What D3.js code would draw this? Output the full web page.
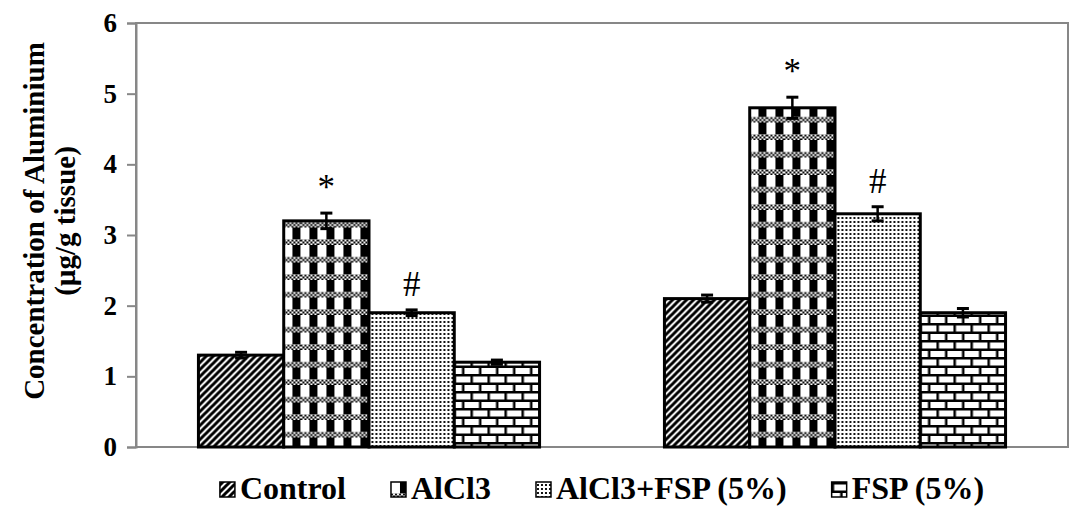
<!DOCTYPE html>
<html>
<head>
<meta charset="utf-8">
<script src="https://cdn.jsdelivr.net/npm/d3@7"></script>
<style>
  body { margin: 0; background: #fff; }
  svg { display: block; }
  text { font-family: "Liberation Serif", "Times New Roman", serif; }
</style>
</head>
<body>
<div id="chart"></div>
<script>
// data
const groups = ["Tissue 1", "Tissue 2"];
const series = ["Control", "AlCl3", "AlCl3+FSP (5%)", "FSP (5%)"];
const means = [
  [1.3, 3.2, 1.9, 1.2],
  [2.1, 4.8, 3.3, 1.9],
];
const errors = [
  [0.04, 0.11, 0.04, 0.03],
  [0.05, 0.15, 0.1, 0.06],
];
const marks = [
  ["", "*", "#", ""],
  ["", "*", "#", ""],
];
const yTicks = [0, 1, 2, 3, 4, 5, 6];
const patternIds = ["pDiag", "pPlaid", "pDots", "pBrick"];

const W = 1071, H = 508;
const plot = { left: 136, right: 1068, top: 23, bottom: 447 };
const grey = "#878787";

const svg = d3.select("#chart").append("svg")
  .attr("width", W).attr("height", H);

// fill patterns (black & white hatchings like the original)
const defs = svg.append("defs");

const diag = defs.append("pattern").attr("id", "pDiag")
  .attr("patternUnits", "userSpaceOnUse").attr("width", 7).attr("height", 7);
diag.append("rect").attr("width", 7).attr("height", 7).attr("fill", "#fff");
diag.append("path").attr("d", "M-2,2 L2,-2 M0,7 L7,0 M5,9 L9,5")
  .attr("stroke", "#000").attr("stroke-width", 3);

const check = defs.append("pattern").attr("id", "pCheck")
  .attr("patternUnits", "userSpaceOnUse").attr("width", 4).attr("height", 4);
check.append("rect").attr("width", 4).attr("height", 4).attr("fill", "#fff");
check.append("rect").attr("width", 2).attr("height", 2).attr("fill", "#000");
check.append("rect").attr("x", 2).attr("y", 2).attr("width", 2).attr("height", 2).attr("fill", "#000");

const plaid = defs.append("pattern").attr("id", "pPlaid")
  .attr("patternUnits", "userSpaceOnUse").attr("width", 17).attr("height", 17.5);
plaid.append("rect").attr("width", 17).attr("height", 17.5).attr("fill", "#fff");
plaid.append("rect").attr("x", 9).attr("y", 0).attr("width", 8).attr("height", 12).attr("fill", "#000");
plaid.append("rect").attr("x", 0).attr("y", 12).attr("width", 17).attr("height", 5.5).attr("fill", "url(#pCheck)");

const dots = defs.append("pattern").attr("id", "pDots")
  .attr("patternUnits", "userSpaceOnUse").attr("width", 4).attr("height", 4);
dots.append("rect").attr("width", 4).attr("height", 4).attr("fill", "#fff");
dots.append("rect").attr("x", 1).attr("y", 1).attr("width", 2).attr("height", 2).attr("fill", "#111");

const brick = defs.append("pattern").attr("id", "pBrick")
  .attr("patternUnits", "userSpaceOnUse").attr("width", 17).attr("height", 17);
brick.append("rect").attr("width", 17).attr("height", 17).attr("fill", "#fff");
brick.append("path")
  .attr("d", "M0,1.25 H17 M0,9.75 H17 M1.25,0 V9.75 M9.75,9.75 V17")
  .attr("stroke", "#000").attr("stroke-width", 2.5);

// scales
const x0 = d3.scaleBand().domain(groups)
  .range([plot.left, plot.right]).paddingInner(0.268).paddingOuter(0.134);
const x1 = d3.scaleBand().domain(series).range([0, x0.bandwidth()]);
const y = d3.scaleLinear().domain([0, 6]).range([plot.bottom, plot.top]);

// plot frame
svg.append("rect")
  .attr("x", plot.left).attr("y", plot.top)
  .attr("width", plot.right - plot.left).attr("height", plot.bottom - plot.top)
  .attr("fill", "none").attr("stroke", grey).attr("stroke-width", 2);

// y axis
const yAxis = svg.append("g")
  .attr("transform", `translate(${plot.left},0)`)
  .call(d3.axisLeft(y).tickValues(yTicks).tickSize(9).tickPadding(10).tickFormat(d3.format("d")));
yAxis.select(".domain").attr("stroke", grey).attr("stroke-width", 2);
yAxis.selectAll(".tick line").attr("stroke", grey).attr("stroke-width", 2);
yAxis.selectAll(".tick text")
  .attr("fill", "#000")
  .style("font-size", "27px").style("font-weight", "bold")
  .style("font-family", "'Liberation Serif', serif");

// y axis title
const yTitle = svg.append("text")
  .attr("transform", `translate(34,${(plot.top + plot.bottom) / 2 - 14}) rotate(-90)`)
  .attr("text-anchor", "middle")
  .style("font-size", "29px").style("font-weight", "bold");
yTitle.append("tspan").attr("x", 0).attr("dy", "0.35em").text("Concentration of Aluminium");
yTitle.append("tspan").attr("x", 0).attr("dy", "1.07em").text("(µg/g tissue)");

// bars
const rows = groups.map((g, gi) => series.map((s, si) => ({
  group: g, series: s, si, value: means[gi][si], err: errors[gi][si], mark: marks[gi][si],
})));

const gGroups = svg.selectAll(".grp").data(rows).join("g")
  .attr("class", "grp")
  .attr("transform", (d, i) => `translate(${x0(groups[i])},0)`);

gGroups.selectAll("rect.bar").data((d) => d).join("rect")
  .attr("class", "bar")
  .attr("x", (d) => x1(d.series))
  .attr("y", (d) => y(d.value))
  .attr("width", x1.bandwidth())
  .attr("height", (d) => y(0) - y(d.value))
  .attr("fill", (d) => `url(#${patternIds[d.si]})`)
  .attr("stroke", "#000").attr("stroke-width", 3);

// error bars
const eb = gGroups.selectAll("g.err").data((d) => d).join("g").attr("class", "err")
  .attr("transform", (d) => `translate(${x1(d.series) + x1.bandwidth() / 2},0)`);
eb.append("line")
  .attr("y1", (d) => y(d.value - d.err)).attr("y2", (d) => y(d.value + d.err))
  .attr("stroke", "#000").attr("stroke-width", 2.5);
eb.append("line")
  .attr("x1", -6).attr("x2", 6)
  .attr("y1", (d) => y(d.value + d.err)).attr("y2", (d) => y(d.value + d.err))
  .attr("stroke", "#000").attr("stroke-width", 3);
eb.append("line")
  .attr("x1", -6).attr("x2", 6)
  .attr("y1", (d) => y(d.value - d.err)).attr("y2", (d) => y(d.value - d.err))
  .attr("stroke", "#000").attr("stroke-width", 3);

// significance marks
gGroups.selectAll("text.mark").data((d) => d.filter((e) => e.mark)).join("text")
  .attr("class", "mark")
  .attr("x", (d) => x1(d.series) + x1.bandwidth() / 2)
  .attr("y", (d) => y(d.value + d.err) - 14)
  .attr("text-anchor", "middle")
  .style("font-size", "35px")
  .text((d) => d.mark);

// legend
const legend = svg.append("g").attr("class", "legend");
let lx = 0;
series.forEach((s, i) => {
  const item = legend.append("g").attr("transform", `translate(${lx},0)`);
  item.append("rect")
    .attr("x", 0).attr("y", -17).attr("width", 15).attr("height", 15)
    .attr("fill", `url(#${patternIds[i]})`)
    .attr("stroke", "#000").attr("stroke-width", 1.5);
  const t = item.append("text")
    .attr("x", 20).attr("y", 0)
    .style("font-size", "32px").style("font-weight", "bold")
    .text(s);
  lx += 20 + t.node().getComputedTextLength() + 45;
});
lx -= 45;
legend.attr("transform", `translate(${(plot.left + plot.right) / 2 - lx / 2},499)`);
</script>
</body>
</html>
